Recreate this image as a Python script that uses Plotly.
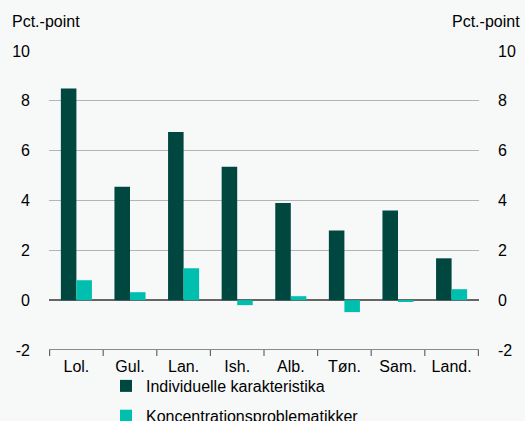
import plotly.graph_objects as go

categories = ["Lol.", "Gul.", "Lan.", "Ish.", "Alb.", "Tøn.", "Sam.", "Land."]
individuelle = [8.5, 4.55, 6.75, 5.35, 3.9, 2.8, 3.6, 1.68]
koncentration = [0.8, 0.32, 1.28, -0.2, 0.16, -0.48, -0.05, 0.44]
y_ticks = [-2, 0, 2, 4, 6, 8, 10]
y_tick_text = ["-2", "0", "2", "4", "6", "8", "10"]

DARK = "#00473f"
CYAN = "#00bfae"
BG = "#f7f8f8"
FONT = "Liberation Sans, Arial, sans-serif"
FS = 16

fig = go.Figure()
fig.add_trace(go.Bar(x=categories, y=individuelle, name="Individuelle karakteristika",
                     legendgroup="a", marker=dict(color=DARK, line=dict(width=0))))
fig.add_trace(go.Bar(x=categories, y=koncentration, name="Koncentrationsproblematikker",
                     legendgroup="b", marker=dict(color=CYAN, line=dict(width=0))))
# invisible trace to drive the mirrored right-hand axis
fig.add_trace(go.Scatter(x=categories, y=individuelle, yaxis="y2", mode="markers",
                         marker=dict(opacity=0), showlegend=False, hoverinfo="skip"))

fig.update_layout(
    width=525, height=421,
    margin=dict(l=49, r=46, t=51, b=71, autoexpand=False),
    paper_bgcolor=BG, plot_bgcolor=BG,
    font=dict(family=FONT, size=FS, color="#000000"),
    barmode="group", bargap=0.42, bargroupgap=0,
    xaxis=dict(showgrid=False, ticks="", showline=False, tickfont=dict(size=FS),
               zeroline=False, automargin=False, ticklabelstandoff=5),
    yaxis=dict(range=[-2, 10], tickvals=y_ticks, ticktext=y_tick_text, showgrid=True,
               gridcolor="#b4b4b4", gridwidth=1, zeroline=True, zerolinecolor="#666666",
               zerolinewidth=1.5, ticks="", showline=False, ticklabelstandoff=18,
               automargin=False),
    yaxis2=dict(range=[-2, 10], tickvals=y_ticks, ticktext=y_tick_text, overlaying="y",
                side="right", showgrid=False, zeroline=False, ticks="", showline=False,
                ticklabelstandoff=18, automargin=False),
    legend=dict(orientation="v", x=106 / 525, y=1 - 369 / 421, xref="container",
                yref="container", xanchor="left", yanchor="top",
                font=dict(size=FS), bgcolor="rgba(0,0,0,0)", tracegroupgap=6,
                itemsizing="constant", itemwidth=30),
    showlegend=True,
)

# bottom axis line at -2 with category boundary ticks
fig.add_shape(type="line", xref="paper", yref="y", x0=0, x1=1, y0=-2, y1=-2,
              line=dict(color="#666666", width=1.5))
n = len(categories)
for i in range(n + 1):
    fig.add_shape(type="line", xref="x", yref="paper", x0=i - 0.5, x1=i - 0.5,
                  y0=0, y1=-0.02, line=dict(color="#666666", width=1.2))

fig.add_annotation(text="Pct.-point", xref="paper", yref="paper", x=-0.09, y=1.065,
                   xanchor="left", yanchor="bottom", showarrow=False, font=dict(size=FS))
fig.add_annotation(text="Pct.-point", xref="paper", yref="paper", x=1.1, y=1.065,
                   xanchor="right", yanchor="bottom", showarrow=False, font=dict(size=FS))

fig.write_html("out.html")
